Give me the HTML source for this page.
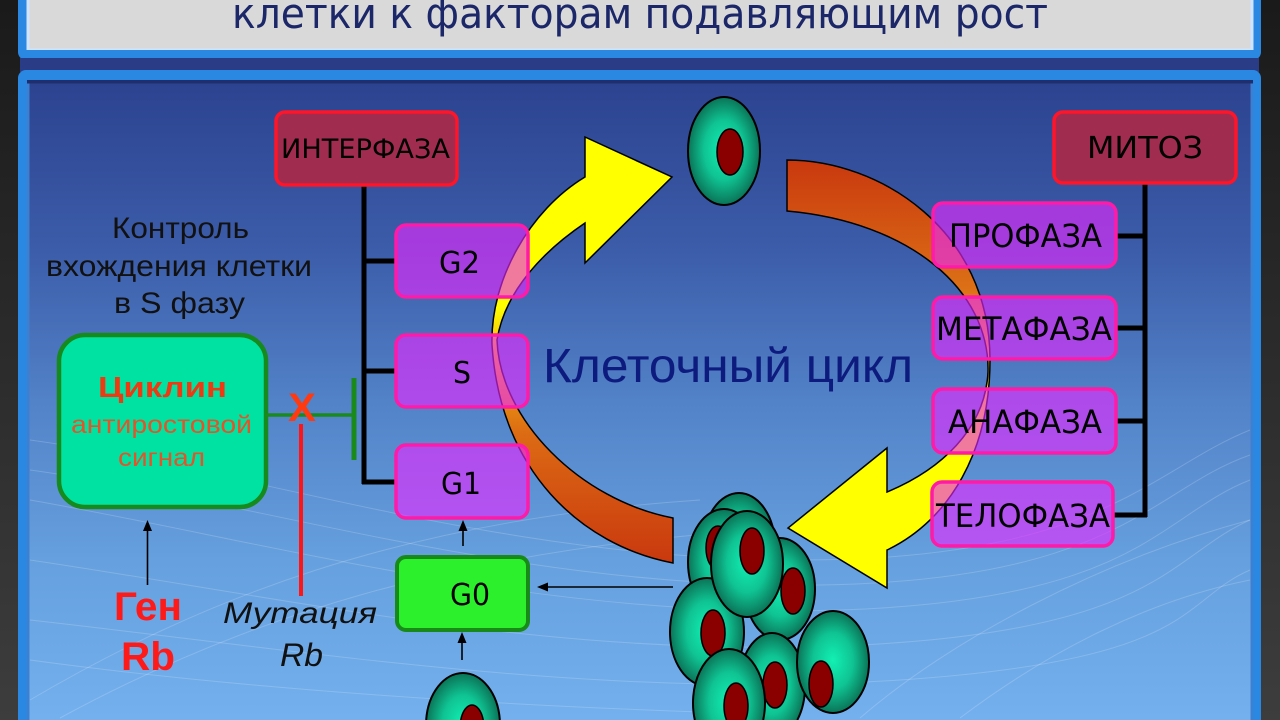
<!DOCTYPE html>
<html><head><meta charset="utf-8">
<style>
html,body{margin:0;padding:0;width:1280px;height:720px;overflow:hidden;background:#262626}
svg{display:block;overflow:hidden}
</style></head>
<body>
<svg width="1280" height="720" viewBox="0 0 1280 720" xmlns="http://www.w3.org/2000/svg">
<defs>
<clipPath id="frame"><rect x="0" y="0" width="1280" height="720"/></clipPath>
<linearGradient id="side" x1="0" y1="0" x2="0" y2="1"><stop offset="0" stop-color="#1a1a1a"/><stop offset="1" stop-color="#3d3d3d"/></linearGradient>
<linearGradient id="panel" x1="0" y1="83" x2="0" y2="720" gradientUnits="userSpaceOnUse">
<stop offset="0" stop-color="#2c4390"/><stop offset="0.25" stop-color="#3b5ba8"/><stop offset="0.5" stop-color="#5282c8"/><stop offset="0.75" stop-color="#66a0de"/><stop offset="1" stop-color="#74b0ee"/></linearGradient>
<linearGradient id="lg" x1="0" y1="563" x2="0" y2="137" gradientUnits="userSpaceOnUse">
<stop offset="0" stop-color="#c9380e"/><stop offset="0.3" stop-color="#dc6a14"/><stop offset="0.5" stop-color="#f2b80a"/><stop offset="0.6" stop-color="#ffff00"/><stop offset="1" stop-color="#ffff00"/></linearGradient>
<linearGradient id="rg" x1="0" y1="160" x2="0" y2="588" gradientUnits="userSpaceOnUse">
<stop offset="0" stop-color="#c9380e"/><stop offset="0.3" stop-color="#dc7016"/><stop offset="0.5" stop-color="#f4c808"/><stop offset="0.6" stop-color="#ffff00"/><stop offset="1" stop-color="#ffff00"/></linearGradient>
<radialGradient id="cg" cx="0.5" cy="0.5" r="0.5" fx="0.5" fy="0.48">
<stop offset="0" stop-color="#12f0b4"/><stop offset="0.55" stop-color="#0fc493"/><stop offset="1" stop-color="#0a7458"/></radialGradient>
<radialGradient id="cgB" gradientUnits="userSpaceOnUse" cx="0" cy="0" r="1" fx="0" fy="-0.04" gradientTransform="translate(463,725) scale(37,52)">
<stop offset="0" stop-color="#12f0b4"/><stop offset="0.55" stop-color="#0fc493"/><stop offset="1" stop-color="#0a7458"/></radialGradient>
<radialGradient id="cgE" gradientUnits="userSpaceOnUse" cx="0" cy="0" r="1" fx="0" fy="-0.04" gradientTransform="translate(772,686) scale(33,53)">
<stop offset="0" stop-color="#12f0b4"/><stop offset="0.55" stop-color="#0fc493"/><stop offset="1" stop-color="#0a7458"/></radialGradient>
<radialGradient id="cgG" gradientUnits="userSpaceOnUse" cx="0" cy="0" r="1" fx="0" fy="-0.04" gradientTransform="translate(729,703) scale(36,54)">
<stop offset="0" stop-color="#12f0b4"/><stop offset="0.55" stop-color="#0fc493"/><stop offset="1" stop-color="#0a7458"/></radialGradient>
</defs>

<g clip-path="url(#frame)">
<!-- background strips -->
<rect x="0" y="0" width="1280" height="720" fill="url(#side)"/>

<!-- title panel -->
<rect x="18" y="0" width="1243" height="60" rx="8" fill="#2a88e2"/>
<rect x="18" y="0" width="1243" height="20" fill="#2a88e2"/>
<rect x="26.5" y="0" width="1227" height="50" fill="#cfe4ff"/>
<rect x="29.5" y="0" width="1221" height="48.5" fill="#d9d9d9"/>
<rect x="20" y="58" width="1239" height="14" fill="#2a3c86"/>

<!-- main panel -->
<rect x="18" y="70" width="1243" height="650" rx="8" fill="#2a88e2"/>
<rect x="18" y="700" width="1243" height="20" fill="#2a88e2"/>
<rect x="27" y="80" width="1226" height="640" fill="#3f7fd0"/>
<rect x="27" y="80" width="1226" height="3.5" fill="#1f2f6e"/>
<rect x="29.5" y="83.5" width="1221" height="636.5" fill="url(#panel)"/>

<!-- faint waves -->
<g fill="none" stroke="#ffffff" stroke-opacity="0.18" stroke-width="1">
<path d="M30,440 C250,470 500,560 800,560 S1150,470 1250,430"/>
<path d="M30,470 C250,500 520,590 820,585 S1150,490 1250,455"/>
<path d="M30,500 C260,540 540,620 840,610 S1160,515 1250,480"/>
<path d="M30,560 C300,600 560,660 860,645 S1170,555 1250,520"/>
<path d="M30,620 C300,650 600,700 900,680 S1180,600 1250,570"/>
<path d="M30,700 C200,600 400,520 700,500"/>
<path d="M60,718 C240,620 450,550 760,530"/>
<path d="M860,718 C950,640 1100,560 1250,520"/>
<path d="M960,718 C1050,650 1150,600 1250,580"/>
<path d="M30,660 C250,690 500,705 700,712"/>
</g>

<!-- ring arrows -->
<path d="M673,563 C580,545 500,470 492,345 C490,280 530,210 585,177 L585,137 L672,177 L585,263 L585,223 C545,250 505,290 497,340 C500,420 580,500 673,518 Z" fill="url(#lg)" stroke="#000" stroke-width="1.5"/>
<path d="M787,160 C880,160 990,230 990,360 C990,450 950,520 887,550 L887,588 L788,528 L887,448 L887,492 C940,470 985,430 988,372 C990,290 910,222 787,211 Z" fill="url(#rg)" stroke="#000" stroke-width="1.5"/>

<!-- cells -->
<g stroke="#000" stroke-width="2">
<ellipse cx="724" cy="151" rx="36" ry="54" fill="url(#cg)"/>
<ellipse cx="730" cy="152" rx="13" ry="23" fill="#8a0000" stroke-width="1.5"/>

<ellipse cx="739" cy="546" rx="36" ry="53" fill="url(#cg)"/>
<ellipse cx="724" cy="562" rx="36" ry="53" fill="url(#cg)"/>
<ellipse cx="718" cy="548" rx="12" ry="22" fill="#8a0000" stroke-width="1.5"/>
<ellipse cx="780" cy="589" rx="35" ry="51" fill="url(#cg)"/>
<ellipse cx="793" cy="591" rx="12" ry="23" fill="#8a0000" stroke-width="1.5"/>
<ellipse cx="707" cy="632" rx="37" ry="54" fill="url(#cg)"/>
<ellipse cx="713" cy="633" rx="12" ry="23" fill="#8a0000" stroke-width="1.5"/>
<ellipse cx="747" cy="564" rx="36" ry="53" fill="url(#cg)"/>
<ellipse cx="752" cy="551" rx="12" ry="23" fill="#8a0000" stroke-width="1.5"/>

<!-- cell E (truncated at bottom) -->
<path d="M746.7,720 A33,53 0 1 1 797.3,720 Z" fill="url(#cgE)" stroke="none"/>
<path d="M746.7,720 A33,53 0 1 1 797.3,720" fill="none"/>
<ellipse cx="775" cy="685" rx="12" ry="23" fill="#8a0000" stroke-width="1.5"/>

<ellipse cx="833" cy="662" rx="36" ry="51" fill="url(#cg)"/>
<ellipse cx="821" cy="684" rx="12" ry="23" fill="#8a0000" stroke-width="1.5"/>

<!-- cell G (truncated) -->
<path d="M694.83,720 A36,54 0 1 1 763.17,720 Z" fill="url(#cgG)" stroke="none"/>
<path d="M694.83,720 A36,54 0 1 1 763.17,720" fill="none"/>
<path d="M726.48,720 A12,23 0 1 1 745.52,720 Z" fill="#8a0000" stroke="none"/>
<path d="M726.48,720 A12,23 0 1 1 745.52,720" fill="none" stroke-width="1.5"/>

<!-- bottom single cell (truncated) -->
<path d="M426.17,720 A37,52 0 0 1 499.83,720 Z" fill="url(#cgB)" stroke="none"/>
<path d="M426.17,720 A37,52 0 0 1 499.83,720" fill="none"/>
<path d="M460.75,720 A12,23 0 0 1 483.25,720 Z" fill="#8a0000" stroke="none"/>
<path d="M460.75,720 A12,23 0 0 1 483.25,720" fill="none" stroke-width="1.5"/>
</g>

<!-- trees -->
<g stroke="#000" stroke-width="5" fill="none">
<line x1="364" y1="185" x2="364" y2="484"/>
<line x1="362" y1="261" x2="397" y2="261"/>
<line x1="362" y1="371" x2="397" y2="371"/>
<line x1="362" y1="482" x2="397" y2="482"/>
<line x1="1145" y1="183" x2="1145" y2="517"/>
<line x1="1115" y1="236" x2="1147" y2="236"/>
<line x1="1115" y1="328" x2="1147" y2="328"/>
<line x1="1115" y1="421" x2="1147" y2="421"/>
<line x1="1112" y1="515" x2="1147" y2="515"/>
</g>

<!-- header boxes -->
<g fill="#a02c50" stroke="#ff1428" stroke-width="3.5">
<rect x="276" y="112" width="181" height="73" rx="9"/>
<rect x="1054" y="112" width="182" height="71" rx="9"/>
</g>

<!-- phase boxes -->
<g stroke="#ff1aa8" stroke-width="3.5" fill="rgb(230,40,255)" fill-opacity="0.62">
<rect x="396" y="225" width="132" height="72" rx="10"/>
<rect x="396" y="335" width="132" height="72" rx="10"/>
<rect x="396" y="445" width="132" height="73" rx="10"/>
<rect x="933" y="203" width="183" height="64" rx="10"/>
<rect x="933" y="297" width="183" height="62" rx="10"/>
<rect x="933" y="389" width="183" height="64" rx="10"/>
<rect x="932" y="482" width="181" height="64" rx="10"/>
</g>

<!-- G0 box -->
<rect x="397" y="557" width="131" height="73" rx="9" fill="#2cf02c" stroke="#178a17" stroke-width="4"/>

<!-- box labels -->
<g font-family="'DejaVu Sans', 'Liberation Sans', sans-serif" fill="#000">
<text x="281" y="158" font-size="27" textLength="169" lengthAdjust="spacingAndGlyphs">ИНТЕРФАЗА</text>
<text x="1087" y="158" font-size="30" textLength="116" lengthAdjust="spacingAndGlyphs">МИТОЗ</text>
<text x="949" y="247" font-size="32" textLength="153" lengthAdjust="spacingAndGlyphs">ПРОФАЗА</text>
<text x="936" y="340" font-size="32" textLength="176" lengthAdjust="spacingAndGlyphs">МЕТАФАЗА</text>
<text x="948" y="433" font-size="32" textLength="154" lengthAdjust="spacingAndGlyphs">АНАФАЗА</text>
<text x="936" y="527" font-size="32" textLength="174" lengthAdjust="spacingAndGlyphs">ТЕЛОФАЗА</text>
<text x="439" y="273" font-size="30" textLength="41" lengthAdjust="spacingAndGlyphs">G2</text>
<text x="453" y="383" font-size="30" textLength="18" lengthAdjust="spacingAndGlyphs">S</text>
<text x="441" y="494" font-size="30" textLength="40" lengthAdjust="spacingAndGlyphs">G1</text>
<text x="450" y="605" font-size="30" textLength="40" lengthAdjust="spacingAndGlyphs">G0</text>
</g>

<!-- title -->
<text x="232" y="28" font-family="'DejaVu Sans', 'Liberation Sans', sans-serif" font-size="42" fill="#1b2768" textLength="816" lengthAdjust="spacingAndGlyphs">клетки к факторам подавляющим рост</text>

<!-- center label -->
<text x="543" y="382" font-family="'Liberation Sans', sans-serif" font-size="48" fill="#0d1a7e" textLength="370" lengthAdjust="spacingAndGlyphs">Клеточный цикл</text>

<!-- left texts -->
<g font-family="'Liberation Sans', sans-serif" fill="#111">
<text x="112" y="238" font-size="30" textLength="137" lengthAdjust="spacingAndGlyphs">Контроль</text>
<text x="46" y="276" font-size="30" textLength="266" lengthAdjust="spacingAndGlyphs">вхождения клетки</text>
<text x="114" y="313" font-size="30" textLength="131" lengthAdjust="spacingAndGlyphs">в S фазу</text>
</g>

<!-- cyclin box -->
<rect x="59" y="335" width="207" height="172" rx="26" fill="#00e2a2" stroke="#168a1c" stroke-width="4.5"/>
<text x="98" y="397" font-family="'Liberation Sans', sans-serif" font-weight="bold" font-size="29" fill="#ee3a12" textLength="129" lengthAdjust="spacingAndGlyphs">Циклин</text>
<text x="71" y="433" font-family="'Liberation Sans', sans-serif" font-size="25" fill="#e2552a" textLength="181" lengthAdjust="spacingAndGlyphs">антиростовой</text>
<text x="118" y="466" font-family="'Liberation Sans', sans-serif" font-size="25" fill="#e2552a" textLength="87" lengthAdjust="spacingAndGlyphs">сигнал</text>

<!-- green inhibition connector -->
<line x1="266" y1="415" x2="354" y2="415" stroke="#1a8a1a" stroke-width="3.5"/>
<line x1="354" y1="378" x2="354" y2="460" stroke="#1a8a1a" stroke-width="5"/>

<!-- red mutation line and X -->
<line x1="301" y1="424" x2="301" y2="596" stroke="#ff1515" stroke-width="4"/>
<text x="288" y="421" font-family="'Liberation Sans', sans-serif" font-weight="bold" font-size="40" fill="#ff3a10" textLength="28" lengthAdjust="spacingAndGlyphs">X</text>

<!-- thin arrows -->
<g stroke="#000" stroke-width="1.6">
<line x1="147.5" y1="585" x2="147.5" y2="528"/>
<line x1="462" y1="660" x2="462" y2="640"/>
<line x1="463" y1="546" x2="463" y2="528"/>
<line x1="673" y1="587" x2="545" y2="587"/>
</g>
<g fill="#000">
<polygon points="147.5,520 143,531 152,531"/>
<polygon points="462,632 457.5,643 466.5,643"/>
<polygon points="463,520 458.5,531 467.5,531"/>
<polygon points="537,587 548,582.5 548,591.5"/>
</g>

<!-- gene labels -->
<text x="114" y="620" font-family="'Liberation Sans', sans-serif" font-weight="bold" font-size="40" fill="#ff1a1a" textLength="68" lengthAdjust="spacingAndGlyphs">Ген</text>
<text x="121" y="670" font-family="'Liberation Sans', sans-serif" font-weight="bold" font-size="40" fill="#ff1a1a" textLength="54" lengthAdjust="spacingAndGlyphs">Rb</text>
<text x="223" y="623" font-family="'Liberation Sans', sans-serif" font-style="italic" font-size="30" fill="#111" textLength="154" lengthAdjust="spacingAndGlyphs">Мутация</text>
<text x="280" y="666" font-family="'Liberation Sans', sans-serif" font-style="italic" font-size="32" fill="#111" textLength="43" lengthAdjust="spacingAndGlyphs">Rb</text>
</g>
</svg>
</body></html>
